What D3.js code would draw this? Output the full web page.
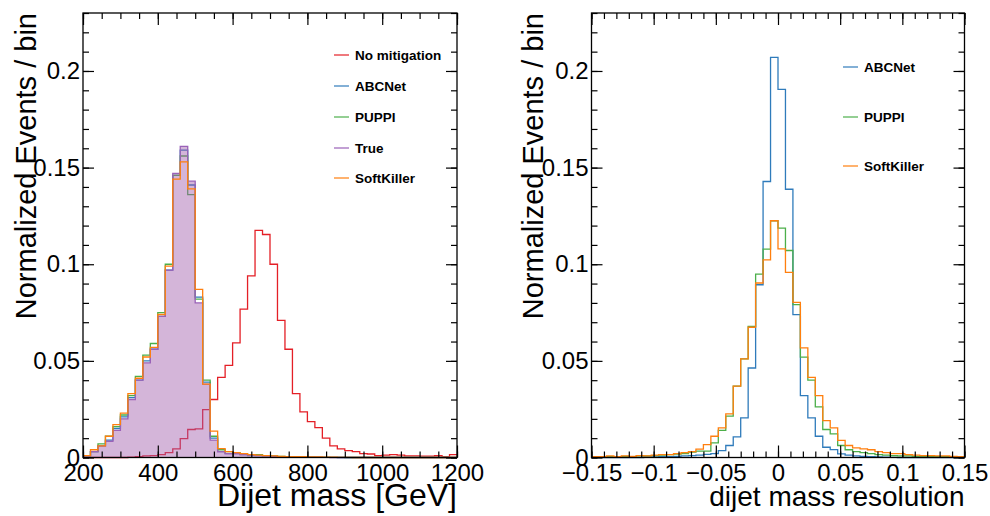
<!DOCTYPE html>
<html>
<head>
<meta charset="utf-8">
<script src="https://cdn.jsdelivr.net/npm/d3@7"></script>
<style>
  body { margin: 0; background: #fff; }
  svg { font-family: "Liberation Sans", Arial, sans-serif; }
</style>
</head>
<body>
<div id="chart"></div>
<script>
// dijet mass histograms, 20 GeV bins from 200 to 1200
const massRange = [200, 1200];
const massBinWidth = 20;
const massNoMitigation = [0, 0, 0, 0, 0, 0, 0.0002, 0.0005, 0.0008, 0.001,
  0.0015, 0.0025, 0.0045, 0.0098, 0.0145, 0.0148, 0.0248, 0.030, 0.0415, 0.0477,
  0.0593, 0.0768, 0.094, 0.1175, 0.1154, 0.100, 0.071, 0.056, 0.033, 0.0236,
  0.0186, 0.0155, 0.010, 0.006, 0.0045, 0.0036, 0.003, 0.002, 0.0018, 0.001,
  0.0012, 0.0015, 0.0012, 0.0008, 0.0008, 0.0007, 0.0007, 0.0009, 0.0005, 0.0015];
const massABCNet = [0.001, 0.003, 0.006, 0.009, 0.015, 0.021, 0.031, 0.040, 0.050, 0.056,
  0.073, 0.097, 0.146, 0.159, 0.141, 0.083, 0.039, 0.010, 0.003, 0.002,
  0.002, 0.0015, 0.001, 0.001, 0.0008, 0.0006, 0.0005, 0.0004, 0.0003, 0.0003,
  0.0002, 0.0002, 0.0001, 0.0001, 0, 0, 0, 0, 0, 0,
  0, 0, 0, 0, 0, 0, 0, 0, 0, 0];
const massPUPPI = [0.001, 0.003, 0.007, 0.011, 0.016, 0.022, 0.032, 0.042, 0.053, 0.059,
  0.075, 0.100, 0.146, 0.156, 0.136, 0.082, 0.040, 0.011, 0.004, 0.003,
  0.0025, 0.002, 0.0015, 0.0015, 0.001, 0.0008, 0.0006, 0.0005, 0.0004, 0.0003,
  0.0003, 0.0002, 0.0002, 0.0001, 0.0001, 0, 0, 0, 0, 0,
  0, 0, 0, 0, 0, 0, 0, 0, 0, 0];
const massTrue = [0.001, 0.003, 0.006, 0.0084, 0.014, 0.020, 0.030, 0.040, 0.049, 0.056,
  0.073, 0.097, 0.147, 0.161, 0.143, 0.080, 0.038, 0.009, 0.003, 0.002,
  0.002, 0.0015, 0.0012, 0.001, 0.0008, 0.0006, 0.0005, 0.0004, 0.0003, 0.0003,
  0.0002, 0.0002, 0.0001, 0, 0, 0, 0, 0, 0, 0,
  0, 0, 0, 0, 0, 0, 0, 0, 0, 0];
const massSoftKiller = [0.001, 0.004, 0.006, 0.011, 0.017, 0.023, 0.033, 0.041, 0.052, 0.057,
  0.074, 0.099, 0.144, 0.153, 0.139, 0.087, 0.038, 0.0136, 0.0046, 0.003,
  0.0025, 0.002, 0.0015, 0.0012, 0.001, 0.0008, 0.0006, 0.0005, 0.0004, 0.0004,
  0.0003, 0.0003, 0.0002, 0.0002, 0.0001, 0.0001, 0, 0, 0, 0,
  0, 0, 0, 0, 0, 0, 0, 0, 0, 0];

// resolution histograms, 0.006 bins from -0.15 to 0.15
const resRange = [-0.15, 0.15];
const resBinWidth = 0.006;
const resABCNet = [0, 0, 0, 0, 0, 0, 0, 0.0003, 0.0003, 0.0005,
  0.0005, 0.0006, 0.0008, 0.001, 0.0012, 0.0016, 0.002, 0.0036, 0.0062, 0.0107,
  0.0205, 0.0463, 0.0894, 0.1428, 0.207, 0.1905, 0.1388, 0.0739, 0.032, 0.0205,
  0.011, 0.0053, 0.0041, 0.0019, 0.0012, 0.0008, 0.0006, 0.0005, 0.0003, 0.0002,
  0.0001, 0, 0, 0, 0, 0, 0, 0, 0, 0];
const resPUPPI = [0.0003, 0.0003, 0.0005, 0.0004, 0.0006, 0.0005, 0.0008, 0.0008, 0.001, 0.0012,
  0.0015, 0.0018, 0.002, 0.0028, 0.0033, 0.0033, 0.0076, 0.014, 0.0214, 0.0369,
  0.051, 0.0679, 0.0949, 0.1078, 0.1225, 0.1187, 0.1071, 0.0791, 0.0519, 0.040,
  0.0262, 0.0145, 0.0122, 0.0062, 0.004, 0.003, 0.0025, 0.002, 0.0015, 0.0012,
  0.001, 0.0008, 0.0008, 0.0006, 0.0006, 0.0005, 0.0004, 0.0004, 0.0003, 0.0003];
const resSoftKiller = [0.0005, 0.0005, 0.0008, 0.0005, 0.0008, 0.0006, 0.001, 0.0008, 0.0012, 0.0015,
  0.0015, 0.002, 0.0025, 0.003, 0.0043, 0.0067, 0.011, 0.0153, 0.0226, 0.0369,
  0.051, 0.0674, 0.0903, 0.1023, 0.1225, 0.108, 0.0958, 0.0803, 0.0567, 0.0415,
  0.032, 0.0191, 0.0153, 0.0089, 0.0062, 0.005, 0.0045, 0.004, 0.003, 0.0025,
  0.002, 0.002, 0.0015, 0.0012, 0.001, 0.001, 0.0008, 0.0008, 0.0006, 0.0005];

const yMax = 0.23;
const yMajor = [0, 0.05, 0.1, 0.15, 0.2];
const massMajor = [200, 400, 600, 800, 1000, 1200];
const resMajor = [-0.15, -0.1, -0.05, 0, 0.05, 0.1, 0.15];

const colors = {
    red: "#e41f26",
    blue: "#2f7bbb",
    green: "#4caf4a",
    purple: "#9a62b8",
    orange: "#ff7f0e"
};

const width = 990, height = 516;
const svg = d3.select("#chart").append("svg")
    .attr("width", width)
    .attr("height", height);

const fmt = d3.format("~g");

function drawPanel(opt) {
    const x = d3.scaleLinear().domain(opt.xRange).range([opt.left, opt.right]);
    const y = d3.scaleLinear().domain([0, yMax]).range([opt.bottom, opt.top]);
    const g = svg.append("g");

    // histograms
    const stepPoints = vals => {
        const pts = vals.map((v, i) => [opt.xRange[0] + i * opt.binWidth, v]);
        pts.push([opt.xRange[1], vals[vals.length - 1]]);
        return pts;
    };
    const line = d3.line()
        .x(d => x(d[0]))
        .y(d => y(d[1]))
        .curve(d3.curveStepAfter);
    const area = d3.area()
        .x(d => x(d[0]))
        .y0(y(0))
        .y1(d => y(d[1]))
        .curve(d3.curveStepAfter);

    opt.series.forEach(s => {
        const pts = stepPoints(s.values);
        if (s.fill) {
            g.append("path")
                .attr("d", area(pts))
                .attr("fill", s.fill)
                .attr("stroke", "none");
        }
        g.append("path")
            .attr("d", line(pts))
            .attr("fill", "none")
            .attr("stroke", s.color)
            .attr("stroke-width", 1.3);
    });

    // axes: major + minor ticks pointing inward on all four sides
    const minorX = d3.range(opt.xRange[0], opt.xRange[1] + opt.minorStep / 2, opt.minorStep);
    const minorY = d3.range(0, yMax + 0.0001, 0.01);

    const addAxis = (axis, tx, ty) => {
        const a = g.append("g")
            .attr("transform", `translate(${tx},${ty})`)
            .call(axis);
        a.select(".domain").remove();
        a.selectAll("line").attr("stroke", "#000").attr("stroke-width", 1.2);
        return a;
    };

    addAxis(d3.axisBottom(x).tickValues(minorX).tickSize(-6).tickFormat(""), 0, opt.bottom);
    addAxis(d3.axisTop(x).tickValues(minorX).tickSize(-6).tickFormat(""), 0, opt.top);
    addAxis(d3.axisBottom(x).tickValues(opt.xMajor).tickSize(-12).tickFormat(""), 0, opt.top)
        .selectAll("line").attr("y2", 12);
    const xa = addAxis(d3.axisBottom(x).tickValues(opt.xMajor).tickSize(-12).tickPadding(6)
        .tickFormat(fmt), 0, opt.bottom);
    xa.selectAll("text")
        .attr("font-size", 24)
        .attr("font-family", "Liberation Sans, Arial, sans-serif")
        .attr("fill", "#000");

    addAxis(d3.axisLeft(y).tickValues(minorY).tickSize(-6).tickFormat(""), opt.left, 0);
    addAxis(d3.axisRight(y).tickValues(minorY).tickSize(-6).tickFormat(""), opt.right, 0);
    addAxis(d3.axisRight(y).tickValues(yMajor).tickSize(-11).tickFormat(""), opt.right, 0);
    const ya = addAxis(d3.axisLeft(y).tickValues(yMajor).tickSize(-11).tickPadding(3)
        .tickFormat(fmt), opt.left, 0);
    ya.selectAll("text")
        .attr("font-size", 24)
        .attr("font-family", "Liberation Sans, Arial, sans-serif")
        .attr("fill", "#000");

    // frame
    g.append("rect")
        .attr("x", opt.left)
        .attr("y", opt.top)
        .attr("width", opt.right - opt.left)
        .attr("height", opt.bottom - opt.top)
        .attr("fill", "none")
        .attr("stroke", "#000")
        .attr("stroke-width", 1.3);

    // titles
    g.append("text")
        .attr("x", opt.right)
        .attr("y", 506)
        .attr("text-anchor", "end")
        .attr("font-size", opt.xTitleSize)
        .text(opt.xTitle);
    g.append("text")
        .attr("transform", `translate(${opt.yTitleX},${opt.top}) rotate(-90)`)
        .attr("text-anchor", "end")
        .attr("font-size", 29)
        .text("Normalized Events / bin");

    // legend
    opt.legend.forEach((s, i) => {
        const ly = opt.legendY[i];
        g.append("line")
            .attr("x1", opt.legendX).attr("x2", opt.legendX + 15)
            .attr("y1", ly).attr("y2", ly)
            .attr("stroke", s.color)
            .attr("stroke-width", 1.2);
        g.append("text")
            .attr("x", opt.legendX + 21)
            .attr("y", ly)
            .attr("dy", "0.35em")
            .attr("font-size", 13.5)
            .attr("font-weight", "bold")
            .text(s.name);
    });
}

const redS = { name: "No mitigation", values: massNoMitigation, color: colors.red };
const blueS = { name: "ABCNet", values: massABCNet, color: colors.blue };
const greenS = { name: "PUPPI", values: massPUPPI, color: colors.green };
const trueS = { name: "True", values: massTrue, color: colors.purple, fill: "rgba(160,90,170,0.45)" };
const orangeS = { name: "SoftKiller", values: massSoftKiller, color: colors.orange };

drawPanel({
    left: 83, right: 457, top: 13, bottom: 457.5,
    xRange: massRange, binWidth: massBinWidth, minorStep: 50, xMajor: massMajor,
    xTitle: "Dijet mass [GeV]", xTitleSize: 32, yTitleX: 36,
    series: [redS, blueS, greenS, trueS, orangeS],
    legend: [redS, blueS, greenS, trueS, orangeS],
    legendX: 334, legendY: [55, 86, 117, 148, 178]
});

const rBlue = { name: "ABCNet", values: resABCNet, color: colors.blue };
const rGreen = { name: "PUPPI", values: resPUPPI, color: colors.green };
const rOrange = { name: "SoftKiller", values: resSoftKiller, color: colors.orange };

drawPanel({
    left: 591.5, right: 964.5, top: 13, bottom: 457.5,
    xRange: resRange, binWidth: resBinWidth, minorStep: 0.01, xMajor: resMajor,
    xTitle: "dijet mass resolution", xTitleSize: 28, yTitleX: 543,
    series: [rBlue, rGreen, rOrange],
    legend: [rBlue, rGreen, rOrange],
    legendX: 843, legendY: [67, 117, 166]
});
</script>
</body>
</html>
